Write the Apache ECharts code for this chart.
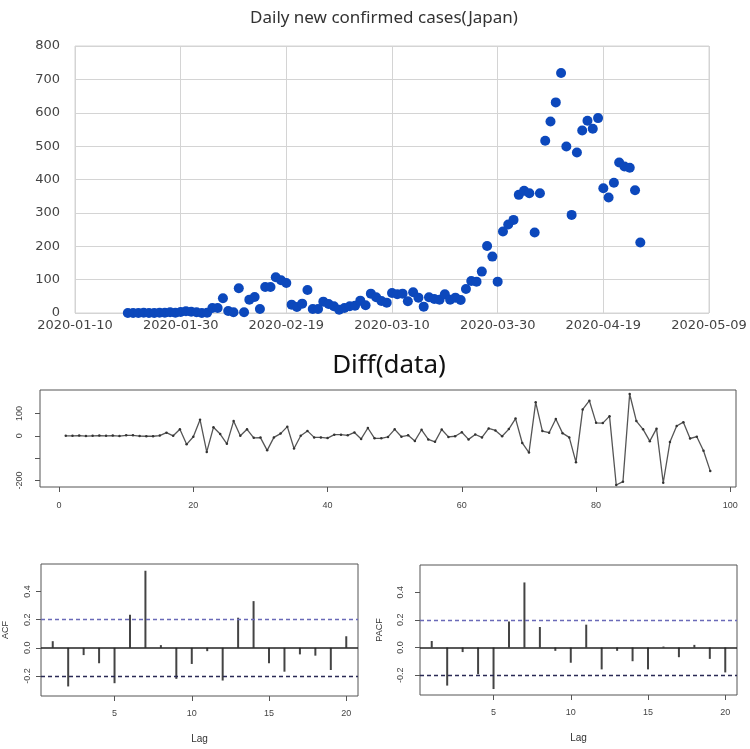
<!DOCTYPE html>
<html>
<head>
<meta charset="utf-8">
<script src="https://cdn.jsdelivr.net/npm/echarts@6/dist/echarts.min.js"></script>
<style>
  html, body { margin: 0; padding: 0; background: #fff; }
  #chart { width: 750px; height: 749px; }
</style>
</head>
<body>
<div id="chart"></div>
<script>
// daily new cases, one per day starting 2020-01-20
const axisStart = '2020-01-10';
const firstDayOffset = 10;
const cases = [
  0, 0, 0, 1, 0, 0, 1, 1, 2, 1, 3, 5, 4, 2, 0, 1, 15, 15, 44, 6,
  2, 74, 2, 40, 48, 12, 78, 78, 107, 98, 90, 25, 18, 28, 69, 12, 12, 34, 27, 20,
  10, 15, 20, 22, 37, 23, 58, 47, 36, 31, 60, 56, 58, 35, 62, 46, 19, 47, 42, 40,
  56, 40, 46, 39, 72, 96, 94, 124, 201, 169, 94, 244, 265, 279, 354, 366, 359, 241, 359, 516,
  574, 631, 719, 499, 294, 481, 547, 576, 552, 584, 374, 346, 390, 451, 439, 435, 368, 211
];

// Diff(data), index 1..97
const diffs = [
  0, 0, 1, -1, 0, 1, 0, 1, -1, 2, 2, -1, -2, -2, 1, 14, 0, 29, -38, -4,
  72, -72, 38, 8, -36, 66, 0, 29, -9, -8, -65, -7, 10, 41, -57, 0, 22, -7, -7, -10,
  5, 5, 2, 15, -14, 35, -11, -11, -5, 29, -4, 2, -23, 27, -16, -27, 28, -5, -2, 16,
  -16, 6, -7, 33, 24, -2, 30, 77, -32, -75, 150, 21, 14, 75, 12, -7, -118, 118, 157, 58,
  57, 88, -220, -205, 187, 66, 29, -24, 32, -210, -28, 44, 61, -12, -4, -67, -157
];
const diffXTicks = [0, 20, 40, 60, 80, 100];
const diffYTicks = [-200, -100, 0, 100];
const diffYLabels = [-200, 0, 100];

const lags = [1, 2, 3, 4, 5, 6, 7, 8, 9, 10, 11, 12, 13, 14, 15, 16, 17, 18, 19, 20];
const acf = [0.047, -0.275, -0.052, -0.11, -0.252, 0.235, 0.548, 0.019, -0.221, -0.115,
  -0.024, -0.233, 0.214, 0.332, -0.11, -0.17, -0.047, -0.056, -0.158, 0.082];
const pacf = [0.047, -0.275, -0.033, -0.193, -0.3, 0.188, 0.47, 0.148, -0.024, -0.11,
  0.165, -0.158, -0.024, -0.099, -0.158, 0.007, -0.07, 0.019, -0.082, -0.18];
const ciLimit = 0.202;
const lagTicks = [5, 10, 15, 20];
const corrTicks = [-0.2, 0, 0.2, 0.4];

const chart = echarts.init(document.getElementById('chart'));

function dayLabel(v) {
  const d = new Date(axisStart + 'T00:00:00Z');
  d.setUTCDate(d.getUTCDate() + v);
  return d.toISOString().slice(0, 10);
}

const rText = { color: '#444', fontSize: 9, fontFamily: 'Liberation Sans' };

function rXAxis(idx, min, max, ticks, name, labelGap) {
  return {
    type: 'value', gridIndex: idx, min: min, max: max, position: 'bottom',
    axisLine: { show: false, onZero: false },
    axisTick: { show: true, inside: false, length: 5, customValues: ticks, lineStyle: { color: '#555' } },
    axisLabel: Object.assign({ customValues: ticks, margin: labelGap }, rText),
    splitLine: { show: false },
    name: name || '', nameLocation: 'middle', nameGap: 38,
    nameTextStyle: { color: '#333', fontSize: 10, fontFamily: 'Liberation Sans' }
  };
}

function rYAxis(idx, min, max, ticks, labels, fmt, labelGap, name, gap) {
  return {
    type: 'value', gridIndex: idx, min: min, max: max, position: 'left',
    axisLine: { show: false, onZero: false },
    axisTick: { show: true, inside: false, length: 5, customValues: ticks, lineStyle: { color: '#555' } },
    axisLabel: Object.assign({ customValues: labels, rotate: 90, margin: labelGap, formatter: fmt }, rText),
    splitLine: { show: false },
    name: name || '', nameLocation: 'middle', nameGap: gap || 30, nameRotate: 90,
    nameTextStyle: { color: '#333', fontSize: 9, fontFamily: 'Liberation Sans' }
  };
}

function corrSeries(idx, values) {
  return {
    type: 'bar', xAxisIndex: idx, yAxisIndex: idx, barWidth: 2,
    data: lags.map((l, i) => [l, values[i]]),
    itemStyle: { color: '#444' },
    silent: true,
    markLine: {
      silent: true, symbol: 'none', label: { show: false },
      data: [
        { yAxis: 0, lineStyle: { color: '#222', width: 1.5, type: 'solid' } },
        { yAxis: ciLimit, lineStyle: { color: '#6a6ab8', width: 1.3, type: [4, 3] } },
        { yAxis: -ciLimit, lineStyle: { color: '#2a2a55', width: 1.3, type: [4, 3] } }
      ]
    }
  };
}

const corrFmt = v => v.toFixed(1);

const option = {
  animation: false,
  backgroundColor: '#fff',
  title: [
    { text: 'Daily new confirmed cases(Japan)', left: 379, top: 5, textAlign: 'center',
      textStyle: { color: '#333', fontSize: 17, fontWeight: 'normal', fontFamily: 'Noto Sans' } },
    { text: 'Diff(data)', left: 384, top: 348, textAlign: 'center',
      textStyle: { color: '#111', fontSize: 26, fontWeight: 'normal', fontFamily: 'Noto Sans' } }
  ],
  grid: [
    { left: 75, top: 46, width: 634, height: 267, show: true, borderColor: '#d4d4d4', borderWidth: 1 },
    { left: 40, top: 390, width: 696, height: 97, show: true, borderColor: '#555', borderWidth: 1 },
    { left: 40, top: 564, width: 318, height: 132, show: true, borderColor: '#555', borderWidth: 1 },
    { left: 420, top: 565, width: 317, height: 130, show: true, borderColor: '#555', borderWidth: 1 }
  ],
  xAxis: [
    {
      type: 'value', gridIndex: 0, min: 0, max: 120, interval: 20,
      axisLine: { show: false }, axisTick: { show: false },
      axisLabel: { formatter: dayLabel, color: '#444', fontSize: 13, fontFamily: 'DejaVu Sans', margin: 6, showMinLabel: true, showMaxLabel: true },
      splitLine: { show: true, lineStyle: { color: '#d4d4d4', width: 1 } }
    },
    rXAxis(1, -2.84, 100.84, diffXTicks, '', 14),
    rXAxis(2, 0.24, 20.76, lagTicks, 'Lag', 13),
    rXAxis(3, 0.24, 20.76, lagTicks, 'Lag', 13)
  ],
  yAxis: [
    {
      type: 'value', gridIndex: 0, min: 0, max: 800, interval: 100,
      axisLine: { show: false }, axisTick: { show: false },
      axisLabel: { color: '#444', fontSize: 13, fontFamily: 'DejaVu Sans', margin: 15 },
      splitLine: { show: true, lineStyle: { color: '#d4d4d4', width: 1 } }
    },
    rYAxis(1, -229, 205, diffYTicks, diffYLabels, v => String(v), 16),
    rYAxis(2, -0.343, 0.596, corrTicks, corrTicks, corrFmt, 9, 'ACF', 31),
    rYAxis(3, -0.343, 0.596, corrTicks, corrTicks, corrFmt, 15, 'PACF', 36)
  ],
  series: [
    {
      type: 'scatter', xAxisIndex: 0, yAxisIndex: 0,
      data: cases.map((v, i) => [firstDayOffset + i, v]),
      symbolSize: 10,
      itemStyle: { color: '#0c48bc', opacity: 1 }
    },
    {
      type: 'line', xAxisIndex: 1, yAxisIndex: 1,
      data: diffs.map((v, i) => [i + 1, v]),
      symbol: 'circle', symbolSize: 2.5, showSymbol: true,
      lineStyle: { color: '#555', width: 1.3 },
      itemStyle: { color: '#333' }
    },
    corrSeries(2, acf),
    corrSeries(3, pacf)
  ]
};

chart.setOption(option);
</script>
</body>
</html>
